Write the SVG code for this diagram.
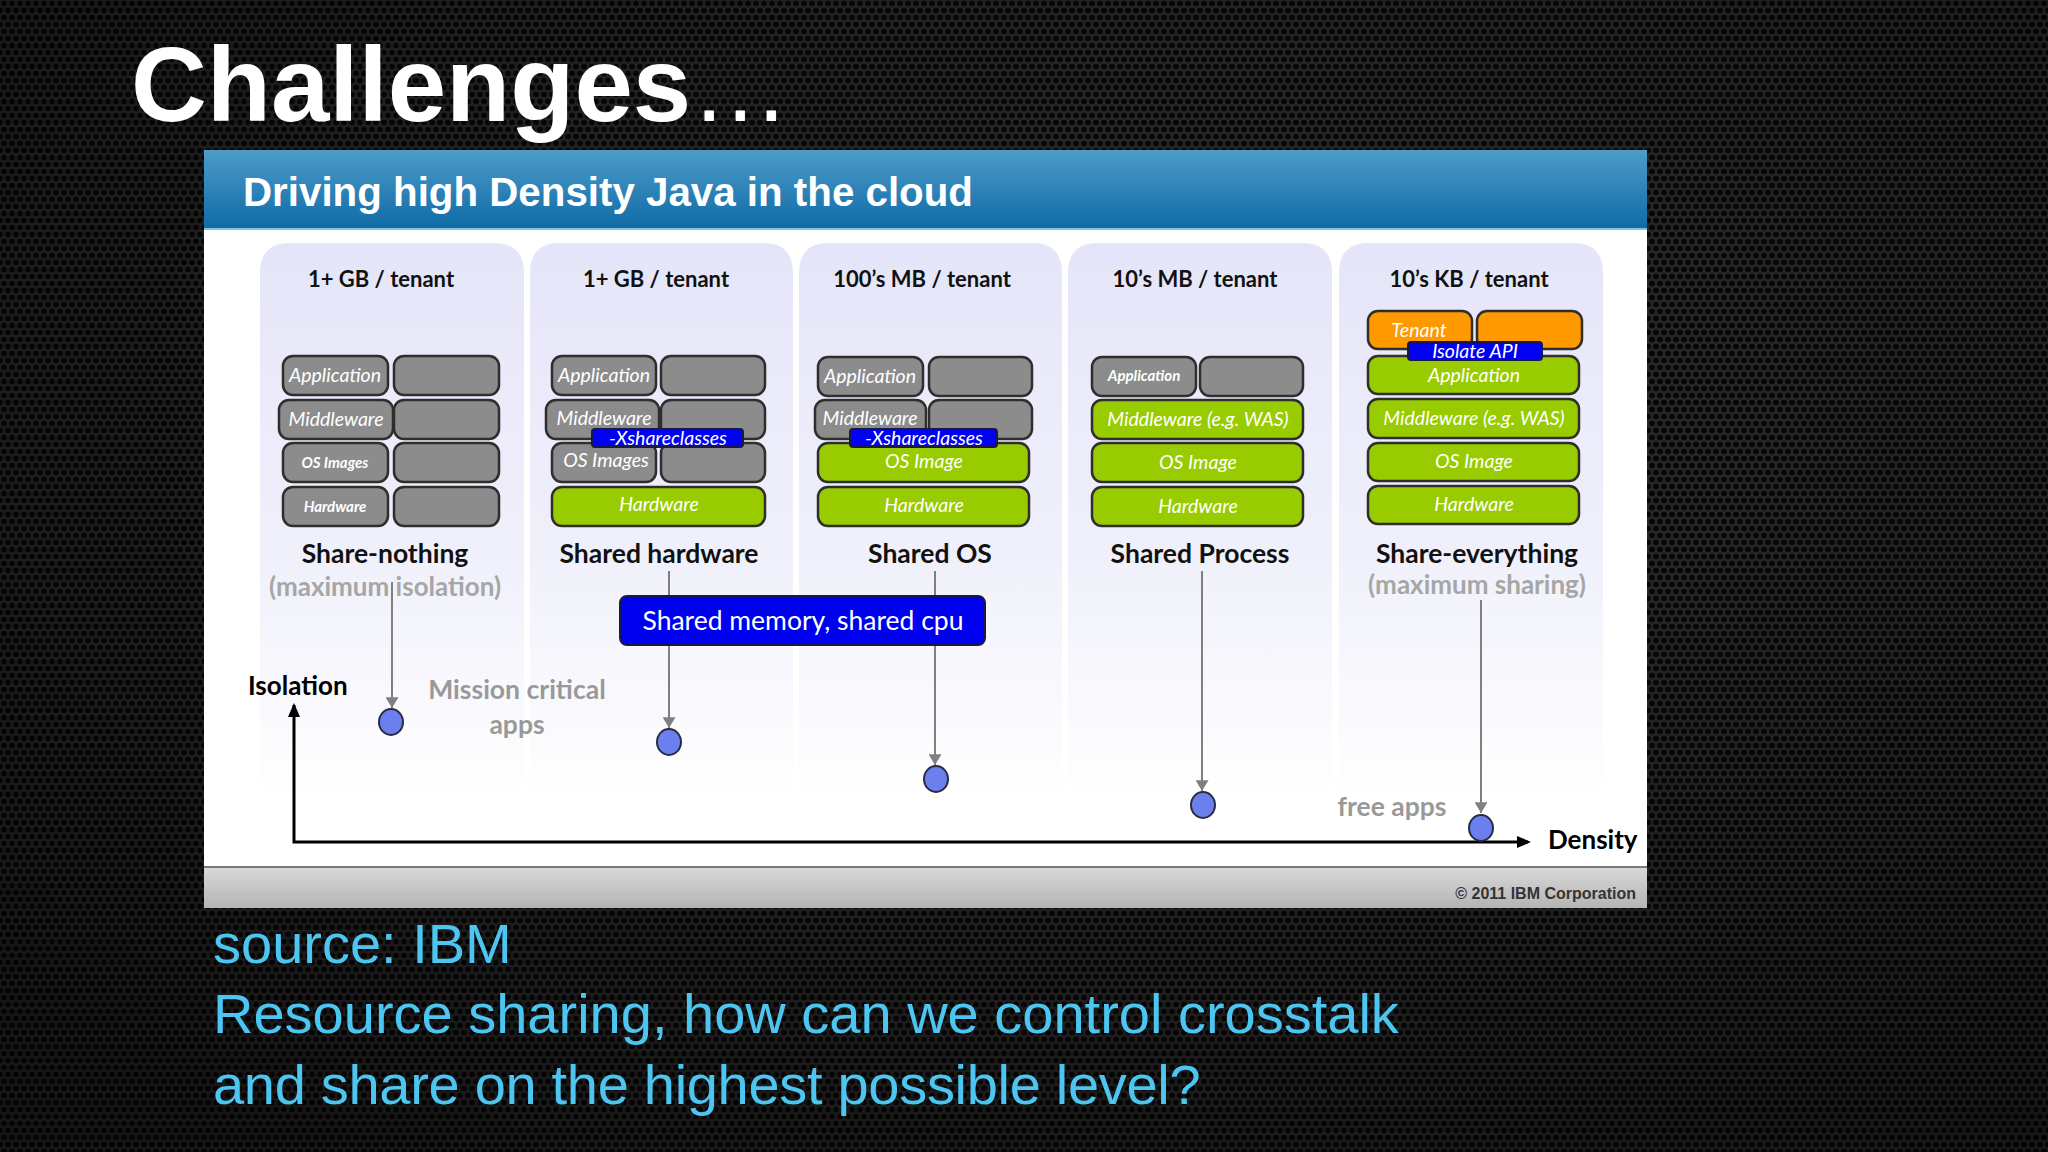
<svg xmlns="http://www.w3.org/2000/svg" width="2048" height="1152" viewBox="0 0 2048 1152">
<defs>
  <pattern id="mesh" width="8" height="14" patternUnits="userSpaceOnUse">
    <rect width="8" height="14" fill="#2c2c2c"/>
    <circle cx="4" cy="3.5" r="2.8" fill="#070707"/>
    <circle cx="0" cy="10.5" r="2.8" fill="#070707"/>
    <circle cx="8" cy="10.5" r="2.8" fill="#070707"/>
  </pattern>
  <radialGradient id="vign" cx="0.6" cy="0.35" r="0.8">
    <stop offset="0" stop-color="#000" stop-opacity="0"/>
    <stop offset="1" stop-color="#000" stop-opacity="0.5"/>
  </radialGradient>
  <linearGradient id="hdr" x1="0" y1="0" x2="0" y2="1">
    <stop offset="0" stop-color="#4d9cc9"/>
    <stop offset="1" stop-color="#0f6aa6"/>
  </linearGradient>
  <linearGradient id="foot" x1="0" y1="0" x2="0" y2="1">
    <stop offset="0" stop-color="#d9d9d9"/>
    <stop offset="1" stop-color="#b4b4b4"/>
  </linearGradient>
  <linearGradient id="colg" x1="0" y1="0" x2="0" y2="1">
    <stop offset="0" stop-color="#e5e5f9"/>
    <stop offset="0.55" stop-color="#f0f0fb"/>
    <stop offset="1" stop-color="#ffffff"/>
  </linearGradient>
  <marker id="ga" viewBox="0 0 10 12" refX="10" refY="6" markerWidth="15" markerHeight="13" orient="auto" markerUnits="userSpaceOnUse">
    <path d="M0,0 L10,6 L0,12 z" fill="#808080"/>
  </marker>
  <style>
    .gb{fill:#8c8c8c;stroke:#2e2e2e;stroke-width:2.5}
    .gn{fill:#99cc00;stroke:#2e2e2e;stroke-width:2.5}
    .or{fill:#ff9900;stroke:#2e2e2e;stroke-width:2.5}
    .bl{fill:#0000f5;stroke:#1a1a40;stroke-width:2}
    .lb{font-family:Lato,"Open Sans",sans-serif;font-style:italic;fill:#ffffff;text-anchor:middle;font-size:19.5px}
    .lbs{font-family:Lato,"Open Sans",sans-serif;font-style:italic;font-weight:bold;fill:#ffffff;text-anchor:middle;font-size:15px}
    .hd{font-family:Lato,"Open Sans",sans-serif;font-weight:bold;font-size:22px;fill:#111;text-anchor:middle}
    .ttl{font-family:Lato,"Open Sans",sans-serif;font-weight:bold;font-size:26.5px;fill:#111;text-anchor:middle}
    .sub{font-family:Lato,"Open Sans",sans-serif;font-weight:bold;font-size:26px;fill:#a6a6a6;text-anchor:middle}
    .gt{font-family:Lato,"Open Sans",sans-serif;font-weight:bold;font-size:26.5px;fill:#999999;text-anchor:middle}
    .ax{font-family:Lato,"Open Sans",sans-serif;font-weight:bold;font-size:26px;fill:#000}
    .col{fill:url(#colg)}
    .vl{stroke:#808080;stroke-width:2;fill:none}
    .dot{fill:#6b80ee;stroke:#2a2a40;stroke-width:2}
    .cy{font-family:"Liberation Sans",Arial,sans-serif;font-size:56px;fill:#4cc6f0}
  </style>
</defs>

<!-- background -->
<rect width="2048" height="1152" fill="url(#mesh)"/>
<rect width="2048" height="1152" fill="url(#vign)"/>

<g id="title">
  <text x="131" y="121" font-family="'Liberation Sans',Arial,sans-serif" font-weight="bold" font-size="105" fill="#ffffff">Challenges<tspan font-weight="normal" font-size="98">…</tspan></text>
</g>

<!-- slide panel -->
<g id="panel">
  <rect x="204" y="150" width="1443" height="758" fill="#ffffff"/>
  <rect x="204" y="150" width="1443" height="79" fill="url(#hdr)"/>
  <rect x="204" y="228" width="1443" height="2" fill="#7cc4e4"/>
  <text x="243" y="206" font-family="'Liberation Sans',Arial,sans-serif" font-weight="bold" font-size="40.3" fill="#ffffff">Driving high Density Java in the cloud</text>
  <rect x="204" y="867" width="1443" height="41" fill="url(#foot)"/>
  <rect x="204" y="866" width="1443" height="2" fill="#7a7a7a"/>
  <text x="1636" y="899" text-anchor="end" font-family="'Liberation Sans',Arial,sans-serif" font-weight="bold" font-size="16" fill="#333333">© 2011 IBM Corporation</text>
</g>

<!-- columns -->
<g id="columns">
  <path class="col" d="M260,800 V273 Q260,243 290,243 H494 Q524,243 524,273 V800 Z"/>
  <path class="col" d="M530,800 V273 Q530,243 560,243 H763 Q793,243 793,273 V800 Z"/>
  <path class="col" d="M799,800 V273 Q799,243 829,243 H1032 Q1062,243 1062,273 V800 Z"/>
  <path class="col" d="M1068,800 V273 Q1068,243 1098,243 H1302 Q1332,243 1332,273 V800 Z"/>
  <path class="col" d="M1339,800 V273 Q1339,243 1369,243 H1573 Q1603,243 1603,273 V800 Z"/>
</g>

<!-- connectors -->
<g id="connectors">
  <line class="vl" x1="392" y1="582" x2="392" y2="708" marker-end="url(#ga)"/>
  <line class="vl" x1="669" y1="571" x2="669" y2="728" marker-end="url(#ga)"/>
  <line class="vl" x1="935" y1="571" x2="935" y2="765" marker-end="url(#ga)"/>
  <line class="vl" x1="1202" y1="571" x2="1202" y2="791" marker-end="url(#ga)"/>
  <line class="vl" x1="1481" y1="600" x2="1481" y2="813" marker-end="url(#ga)"/>
  <polyline points="294,705 294,842 1528,842" fill="none" stroke="#000" stroke-width="3"/>
  <path d="M294,703 L288,717 L300,717 Z" fill="#000"/>
  <path d="M1531,842 L1517,836 L1517,848 Z" fill="#000"/>
</g>

<!-- column 1 -->
<g id="share-nothing">
  <text class="hd" x="381" y="287">1+ GB / tenant</text>
  <rect class="gb" x="283" y="356" width="105" height="39" rx="10"/>
  <rect class="gb" x="394" y="356" width="105" height="39" rx="10"/>
  <rect class="gb" x="279" y="400" width="114" height="39" rx="10"/>
  <rect class="gb" x="394" y="400" width="105" height="39" rx="10"/>
  <rect class="gb" x="283" y="443" width="105" height="39" rx="10"/>
  <rect class="gb" x="394" y="443" width="105" height="39" rx="10"/>
  <rect class="gb" x="283" y="487" width="105" height="39" rx="10"/>
  <rect class="gb" x="394" y="487" width="105" height="39" rx="10"/>
  <text class="lb" x="335" y="382">Application</text>
  <text class="lb" x="336" y="426">Middleware</text>
  <text class="lbs" x="335" y="468">OS Images</text>
  <text class="lbs" x="335" y="512">Hardware</text>
  <text class="ttl" x="385" y="563">Share-nothing</text>
  <text class="sub" x="385" y="596">(maximum isolation)</text>
</g>

<!-- column 2 -->
<g id="shared-hardware">
  <text class="hd" x="656" y="287">1+ GB / tenant</text>
  <rect class="gb" x="552" y="356" width="104" height="39" rx="10"/>
  <rect class="gb" x="661" y="356" width="104" height="39" rx="10"/>
  <rect class="gb" x="546" y="400" width="113" height="39" rx="10"/>
  <rect class="gb" x="661" y="400" width="104" height="39" rx="10"/>
  <rect class="gb" x="552" y="443" width="104" height="39" rx="10"/>
  <rect class="gb" x="661" y="443" width="104" height="39" rx="10"/>
  <rect class="gn" x="552" y="487" width="213" height="39" rx="10"/>
  <text class="lb" x="604" y="382">Application</text>
  <text class="lb" x="604" y="425">Middleware</text>
  <text class="lb" x="606" y="467">OS Images</text>
  <text class="lb" x="659" y="511">Hardware</text>
  <rect class="bl" x="592" y="429" width="151" height="18" rx="3"/>
  <text class="lb" x="668" y="445" font-size="19px">-Xshareclasses</text>
  <text class="ttl" x="659" y="563">Shared hardware</text>
</g>

<!-- column 3 -->
<g id="shared-os">
  <text class="hd" x="922" y="287">100’s MB / tenant</text>
  <rect class="gb" x="818" y="357" width="105" height="39" rx="10"/>
  <rect class="gb" x="929" y="357" width="103" height="39" rx="10"/>
  <rect class="gb" x="815" y="400" width="111" height="39" rx="10"/>
  <rect class="gb" x="929" y="400" width="103" height="39" rx="10"/>
  <rect class="gn" x="818" y="443" width="211" height="39" rx="10"/>
  <rect class="gn" x="818" y="487" width="211" height="39" rx="10"/>
  <text class="lb" x="870" y="383">Application</text>
  <text class="lb" x="870" y="425">Middleware</text>
  <text class="lb" x="924" y="468">OS Image</text>
  <text class="lb" x="924" y="512">Hardware</text>
  <rect class="bl" x="850" y="429" width="147" height="18" rx="3"/>
  <text class="lb" x="924" y="445" font-size="19px">-Xshareclasses</text>
  <text class="ttl" x="930" y="563">Shared OS</text>
</g>

<!-- column 4 -->
<g id="shared-process">
  <text class="hd" x="1195" y="287">10’s MB / tenant</text>
  <rect class="gb" x="1092" y="357" width="104" height="39" rx="10"/>
  <rect class="gb" x="1200" y="357" width="103" height="39" rx="10"/>
  <rect class="gn" x="1092" y="400" width="211" height="39" rx="10"/>
  <rect class="gn" x="1092" y="443" width="211" height="39" rx="10"/>
  <rect class="gn" x="1092" y="487" width="211" height="39" rx="10"/>
  <text class="lbs" x="1144" y="381">Application</text>
  <text class="lb" x="1198" y="426" font-size="20px">Middleware (e.g. WAS)</text>
  <text class="lb" x="1198" y="469">OS Image</text>
  <text class="lb" x="1198" y="513">Hardware</text>
  <text class="ttl" x="1200" y="563">Shared Process</text>
</g>

<!-- column 5 -->
<g id="share-everything">
  <text class="hd" x="1469" y="287">10’s KB / tenant</text>
  <rect class="or" x="1368" y="311" width="104" height="38" rx="10"/>
  <rect class="or" x="1477" y="311" width="105" height="38" rx="10"/>
  <rect class="gn" x="1368" y="356" width="211" height="38" rx="10"/>
  <rect class="gn" x="1368" y="399" width="211" height="39" rx="10"/>
  <rect class="gn" x="1368" y="443" width="211" height="38" rx="10"/>
  <rect class="gn" x="1368" y="486" width="211" height="38" rx="10"/>
  <text class="lb" x="1419" y="337" font-size="20.5px">Tenant</text>
  <rect class="bl" x="1408" y="342" width="134" height="18" rx="3"/>
  <text class="lb" x="1475" y="358" font-size="19.5px">Isolate API</text>
  <text class="lb" x="1474" y="382">Application</text>
  <text class="lb" x="1474" y="425" font-size="20px">Middleware (e.g. WAS)</text>
  <text class="lb" x="1474" y="468">OS Image</text>
  <text class="lb" x="1474" y="511">Hardware</text>
  <text class="ttl" x="1477" y="563">Share-everything</text>
  <text class="sub" x="1477" y="594">(maximum sharing)</text>
</g>

<g id="shared-memory">
  <rect x="620" y="596" width="365" height="49" rx="7" fill="#0000f0" stroke="#1a1a40" stroke-width="2"/>
  <text x="803" y="630" text-anchor="middle" font-family="Lato,'Open Sans',sans-serif" font-size="26.5" fill="#ffffff">Shared memory, shared cpu</text>
</g>

<g id="dots">
  <ellipse class="dot" cx="391" cy="722" rx="12" ry="13"/>
  <ellipse class="dot" cx="669" cy="742" rx="12" ry="13"/>
  <ellipse class="dot" cx="936" cy="779" rx="12" ry="13"/>
  <ellipse class="dot" cx="1203" cy="805" rx="12" ry="13"/>
  <ellipse class="dot" cx="1481" cy="828" rx="12" ry="13"/>
</g>

<g id="axis-labels">
  <text class="ax" x="248" y="695">Isolation</text>
  <text class="ax" x="1548" y="849">Density</text>
  <text class="gt" x="517" y="699">Mission critical</text>
  <text class="gt" x="517" y="734">apps</text>
  <text class="gt" x="1392" y="816">free apps</text>
</g>

<g id="caption">
  <text class="cy" x="213" y="963">source: IBM</text>
  <text class="cy" x="213" y="1033">Resource sharing, how can we control crosstalk</text>
  <text class="cy" x="213" y="1104" letter-spacing="-0.3">and share on the highest possible level?</text>
</g>
</svg>
